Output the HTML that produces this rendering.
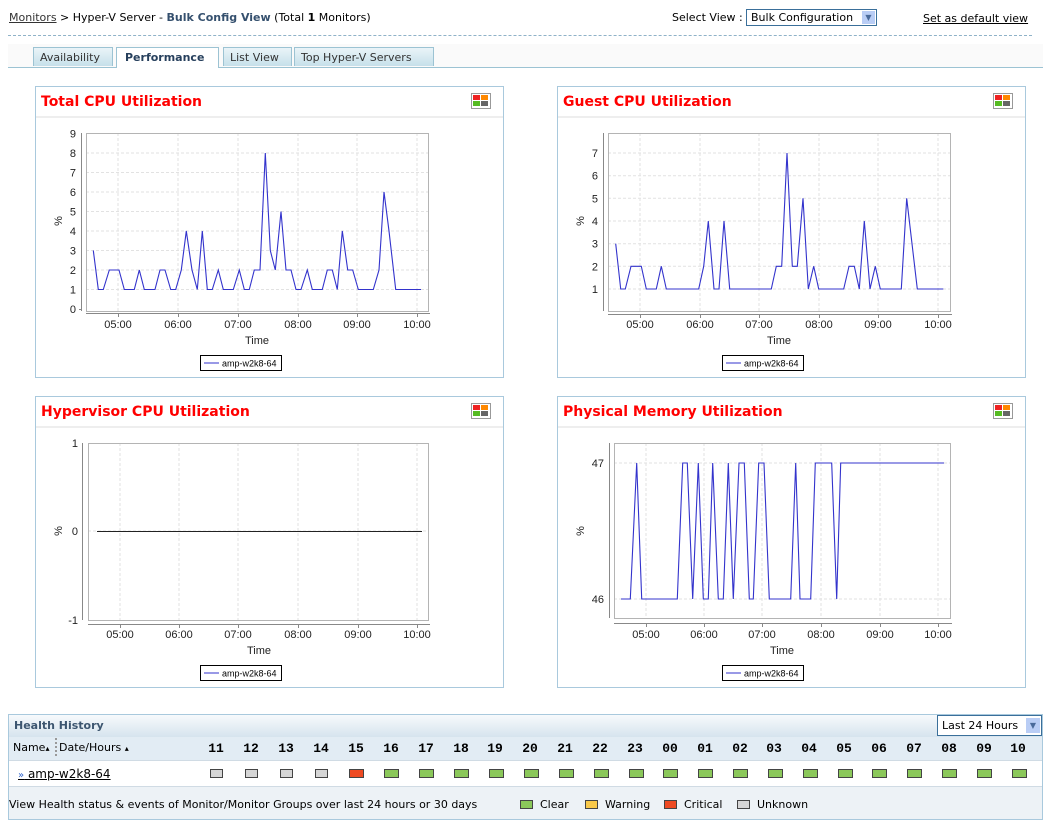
<!DOCTYPE html>
<html><head><meta charset="utf-8"><style>
body{margin:0;width:1050px;height:829px;background:#fff;font-family:"DejaVu Sans","Liberation Sans",sans-serif;font-size:11px;color:#000;position:relative;overflow:hidden}
.a{position:absolute}
.tab{position:absolute;top:47px;height:19px;border:1px solid #9cc3d3;border-bottom:none;background:linear-gradient(#eaf4f8,#c6e0ea);font-size:11px;line-height:19px;padding-left:6px;color:#333;box-sizing:border-box}
.panel{position:absolute;border:1px solid #a9c9dd;width:469px;height:290px;box-sizing:border-box}
.panel .t{position:absolute;left:5px;top:7px;color:#f00;font-weight:bold;font-size:14px}
.panel .bar{position:absolute;left:0;right:0;top:29px;height:2px;background:#eee}
.ic{position:absolute;right:12px;top:6px;width:18px;height:14px;border:1px solid #999;background:#fff}
.ic i{position:absolute;width:7px;height:5px}
.hr{position:absolute;top:741px;font-weight:bold;font-size:13px;width:30px;text-align:center;font-family:"Liberation Mono",monospace}
.sq{position:absolute;top:769px;width:11px;height:7px;border:1px solid #444}
</style></head><body>
<div class="a" style="left:9px;top:11px;font-size:11px"><span style="text-decoration:underline;color:#333">Monitors</span> &gt; Hyper-V Server - <b style="color:#35506e">Bulk Config View</b> (Total <b>1</b> Monitors)</div>
<div class="a" style="left:672px;top:11px">Select View :</div>
<div class="a" style="left:746px;top:9px;width:131px;height:17px;border:1px solid #3a6f9a;box-sizing:border-box;padding-left:4px;line-height:15px">Bulk Configuration<span style="position:absolute;right:1px;top:1px;width:13px;height:13px;background:#b9cdf5;color:#4a6a9a;font-size:8px;text-align:center;line-height:13px">&#9660;</span></div>
<div class="a" style="left:923px;top:12px;text-decoration:underline">Set as default view</div>
<div class="a" style="left:8px;top:35px;width:1024px;border-top:1px dashed #8fb2c8"></div>
<div class="a" style="left:8px;top:44px;width:1035px;height:23px;background:#fafafa;border-bottom:1px solid #9cc3d3"></div>
<div class="tab" style="left:33px;width:80px">Availability</div>
<div class="tab" style="left:116px;width:103px;background:#fff;height:21px;font-weight:bold;color:#263f5c;padding-left:8px">Performance</div>
<div class="tab" style="left:223px;width:69px">List View</div>
<div class="tab" style="left:294px;width:140px">Top Hyper-V Servers</div>

<div class="panel" style="left:35px;top:86px;height:292px"><div class="t">Total CPU Utilization</div><div class="bar"></div><div class="ic"><i style="left:1px;top:1px;background:#e22"></i><i style="left:9px;top:1px;background:#f80"></i><i style="left:1px;top:7px;background:#5b2"></i><i style="left:9px;top:7px;background:#666"></i></div></div>
<div class="panel" style="left:557px;top:86px;height:292px"><div class="t">Guest CPU Utilization</div><div class="bar"></div><div class="ic"><i style="left:1px;top:1px;background:#e22"></i><i style="left:9px;top:1px;background:#f80"></i><i style="left:1px;top:7px;background:#5b2"></i><i style="left:9px;top:7px;background:#666"></i></div></div>
<div class="panel" style="left:35px;top:396px;height:292px"><div class="t">Hypervisor CPU Utilization</div><div class="bar"></div><div class="ic"><i style="left:1px;top:1px;background:#e22"></i><i style="left:9px;top:1px;background:#f80"></i><i style="left:1px;top:7px;background:#5b2"></i><i style="left:9px;top:7px;background:#666"></i></div></div>
<div class="panel" style="left:557px;top:396px;height:292px"><div class="t">Physical Memory Utilization</div><div class="bar"></div><div class="ic"><i style="left:1px;top:1px;background:#e22"></i><i style="left:9px;top:1px;background:#f80"></i><i style="left:1px;top:7px;background:#5b2"></i><i style="left:9px;top:7px;background:#666"></i></div></div>

<svg class="a" style="left:0;top:0" width="1050" height="829" font-family="Liberation Sans, sans-serif" font-size="11">
<g stroke="#e2e2e2" stroke-dasharray="3,2" stroke-width="1">
<path d="M86 289.5H428M86 270H428M86 250.5H428M86 231H428M86 211.5H428M86 192H428M86 172.5H428M86 153H428M118 133V311M178 133V311M238 133V311M298 133V311M357 133V311M417 133V311"/>
<path d="M608 289H950M608 266.3H950M608 243.7H950M608 221H950M608 198.3H950M608 175.7H950M608 153H950M640 133V311M700 133V311M759 133V311M819 133V311M878 133V311M938 133V311"/>
<path d="M88 531H428M120 443V620M179 443V620M238 443V620M298 443V620M358 443V620M417 443V620"/>
<path d="M614 463H950M614 599H950M646 443V618M704 443V618M762 443V618M821 443V618M880 443V618M938 443V618"/>
</g>
<g fill="none" stroke="#b4b4b4"><rect x="86.5" y="133.5" width="342" height="178"/><rect x="608.5" y="133.5" width="342" height="178"/><rect x="88.5" y="443.5" width="340" height="177"/><rect x="614.5" y="443.5" width="336" height="175"/></g>
<g stroke="#888" fill="none">
<path d="M81.5 133V311M79 309.5H81M86 313.5H430M118.5 313V317M178.5 313V317M238.5 313V317M298.5 313V317M357.5 313V317M417.5 313V317"/>
<path d="M603.5 133V311M608 314.5H952M640.5 314V318M700.5 314V318M759.5 314V318M819.5 314V318M878.5 314V318M938.5 314V318"/>
<path d="M82.5 443V620M88 624.5H430M120.5 624V628M179.5 624V628M238.5 624V628M298.5 624V628M358.5 624V628M417.5 624V628"/>
<path d="M609.5 443V618M614 623.5H952M646.5 623V627M704.5 623V627M762.5 623V627M821.5 623V627M880.5 623V627M938.5 623V627"/>
</g>
<g fill="none" stroke="#3333cc" stroke-width="1.1">
<polyline points="93.3,250.5 98.3,289.5 103.3,289.5 109.3,270 119,270 124.3,289.5 134.3,289.5 139.3,270 144.3,289.5 155,289.5 160,270 165,270 170.7,289.5 175.7,289.5 181.3,270 186.3,231 192,270 197.3,289.5 202.3,231 207.3,289.5 212.3,289.5 218.3,270 223.3,289.5 233.3,289.5 239.3,270 244.3,289.5 249.3,289.5 254.3,270 260,270 265.3,153 270.3,250.5 275.3,270 281,211.5 286,270 291,270 296,289.5 301,289.5 307.3,270 312.3,289.5 322.3,289.5 327.3,270 332.3,270 337.3,289.5 342.3,231 347.7,270 352.7,270 358.3,289.5 373.3,289.5 379,270 384,192 389,231 395.7,289.5 421,289.5"/>
<polyline points="615.7,243.7 620.7,289 625.3,289 631,266.3 641.3,266.3 646.3,289 656.3,289 661.3,266.3 666.3,289 698.7,289 703.7,266.3 708.3,221 714,289 719,289 724,221 729.7,289 771.3,289 776.3,266.3 781.7,266.3 787,153 792.3,266.3 797.3,266.3 803,198.3 808.3,289 813.7,266.3 818.7,289 843.7,289 849,266.3 854.3,266.3 859.3,289 864.3,221 870,289 875.3,266.3 880.3,289 901.3,289 906.7,198.3 912,243.7 917.3,289 943.3,289"/>
<polyline points="621,599 630.3,599 636.7,463 641.7,599 677.3,599 682.7,463 687.3,463 692.7,599 698.3,463 703.3,599 708.3,599 712.7,463 718.3,599 723.3,599 728.3,463 733.3,599 739,463 744.3,463 749.3,599 753.3,599 758.7,463 764,463 769.3,599 790.7,599 795.7,463 800,599 810.7,599 815.3,463 831.7,463 836.7,599 840.7,463 944,463"/>
</g>
<path d="M97 531.5H422" stroke="#222" stroke-width="1"/>
<g fill="#222" text-anchor="end">
<text x="76" y="313">0</text><text x="76" y="293.5">1</text><text x="76" y="274">2</text><text x="76" y="254.5">3</text><text x="76" y="235">4</text><text x="76" y="215.5">5</text><text x="76" y="196">6</text><text x="76" y="176.5">7</text><text x="76" y="157">8</text><text x="76" y="137.5">9</text>
<text x="598" y="293">1</text><text x="598" y="270.3">2</text><text x="598" y="247.7">3</text><text x="598" y="225">4</text><text x="598" y="202.3">5</text><text x="598" y="179.7">6</text><text x="598" y="157">7</text>
<text x="78" y="447">1</text><text x="78" y="535">0</text><text x="78" y="624">-1</text>
<text x="604" y="467">47</text><text x="604" y="603">46</text>
</g>
<g fill="#222" text-anchor="middle">
<text x="118" y="328">05:00</text><text x="178" y="328">06:00</text><text x="238" y="328">07:00</text><text x="298" y="328">08:00</text><text x="357" y="328">09:00</text><text x="417" y="328">10:00</text>
<text x="640" y="328">05:00</text><text x="700" y="328">06:00</text><text x="759" y="328">07:00</text><text x="819" y="328">08:00</text><text x="878" y="328">09:00</text><text x="938" y="328">10:00</text>
<text x="120" y="638">05:00</text><text x="179" y="638">06:00</text><text x="238" y="638">07:00</text><text x="298" y="638">08:00</text><text x="358" y="638">09:00</text><text x="417" y="638">10:00</text>
<text x="646" y="638">05:00</text><text x="704" y="638">06:00</text><text x="762" y="638">07:00</text><text x="821" y="638">08:00</text><text x="880" y="638">09:00</text><text x="938" y="638">10:00</text>
<text x="257" y="344">Time</text><text x="779" y="344">Time</text><text x="259" y="654">Time</text><text x="782" y="654">Time</text>
<text transform="translate(62,221) rotate(-90)">%</text><text transform="translate(584,221) rotate(-90)">%</text><text transform="translate(62,531) rotate(-90)">%</text><text transform="translate(584,531) rotate(-90)">%</text>
</g>
<g font-size="9">
<rect x="200.5" y="355.5" width="81" height="15" fill="#fff" stroke="#000"/><path d="M204 363H219" stroke="#33c"/><text x="222" y="366.5">amp-w2k8-64</text>
<rect x="722.5" y="355.5" width="81" height="15" fill="#fff" stroke="#000"/><path d="M726 363H741" stroke="#33c"/><text x="744" y="366.5">amp-w2k8-64</text>
<rect x="200.5" y="665.5" width="81" height="15" fill="#fff" stroke="#000"/><path d="M204 673H219" stroke="#33c"/><text x="222" y="676.5">amp-w2k8-64</text>
<rect x="722.5" y="665.5" width="81" height="15" fill="#fff" stroke="#000"/><path d="M726 673H741" stroke="#33c"/><text x="744" y="676.5">amp-w2k8-64</text>
</g>
</svg>

<div class="a" style="left:8px;top:714px;width:1035px;height:106px;border:1px solid #a9c9dd;box-sizing:border-box;background:#edf2f6"></div>
<div class="a" style="left:9px;top:715px;width:1033px;height:22px;background:linear-gradient(#f7fafc,#d6e4ee)"></div>
<div class="a" style="left:14px;top:719px;font-weight:bold;color:#3d5670;font-size:11px">Health History</div>
<div class="a" style="left:937px;top:715px;width:105px;height:21px;border:1px solid #3a6f9a;box-sizing:border-box;background:#fff;padding-left:4px;line-height:19px">Last 24 Hours<span style="position:absolute;right:1px;top:2px;width:14px;height:15px;background:#b9cdf5;color:#4a6a9a;font-size:8px;text-align:center;line-height:15px">&#9660;</span></div>
<div class="a" style="left:9px;top:737px;width:1033px;height:23px;background:#e2ecf4;border-bottom:1px solid #d0dbe4"></div>
<div class="a" style="left:13px;top:741px">Name<span style="font-size:8px">&#9652;</span></div>
<div class="a" style="left:55px;top:738px;height:18px;border-left:2px dotted #999"></div>
<div class="a" style="left:59px;top:741px">Date/Hours <span style="font-size:8px">&#9652;</span></div>
<div class="a" style="left:9px;top:761px;width:1033px;height:25px;background:#fff;border-bottom:1px solid #d0dbe4"></div>
<div class="a" style="left:18px;top:767px;font-size:12px;text-decoration:underline"><span style="color:#36c;font-size:10px">&#187;</span> amp-w2k8-64</div>
<div class="a" style="left:9px;top:798px">View Health status &amp; events of Monitor/Monitor Groups over last 24 hours or 30 days</div>
<div class="sq" style="left:520px;top:800px;background:#8bc85a"></div><div class="a" style="left:540px;top:798px">Clear</div>
<div class="sq" style="left:585px;top:800px;background:#f9c94a"></div><div class="a" style="left:605px;top:798px">Warning</div>
<div class="sq" style="left:664px;top:800px;background:#ee4a22"></div><div class="a" style="left:684px;top:798px">Critical</div>
<div class="sq" style="left:737px;top:800px;background:#d6d6d6"></div><div class="a" style="left:757px;top:798px">Unknown</div>

<div class="hr" style="left:201px">11</div><div class="sq" style="left:210px;background:#d6d6d6"></div>
<div class="hr" style="left:236px">12</div><div class="sq" style="left:245px;background:#d6d6d6"></div>
<div class="hr" style="left:271px">13</div><div class="sq" style="left:280px;background:#d6d6d6"></div>
<div class="hr" style="left:306px">14</div><div class="sq" style="left:315px;background:#d6d6d6"></div>
<div class="hr" style="left:341px">15</div><div class="sq" style="left:349px;background:#ee4a22;width:13px"></div>
<div class="hr" style="left:376px">16</div><div class="sq" style="left:384px;background:#8bc85a;width:13px"></div>
<div class="hr" style="left:411px">17</div><div class="sq" style="left:419px;background:#8bc85a;width:13px"></div>
<div class="hr" style="left:446px">18</div><div class="sq" style="left:454px;background:#8bc85a;width:13px"></div>
<div class="hr" style="left:480px">19</div><div class="sq" style="left:489px;background:#8bc85a;width:13px"></div>
<div class="hr" style="left:515px">20</div><div class="sq" style="left:524px;background:#8bc85a;width:13px"></div>
<div class="hr" style="left:550px">21</div><div class="sq" style="left:559px;background:#8bc85a;width:13px"></div>
<div class="hr" style="left:585px">22</div><div class="sq" style="left:594px;background:#8bc85a;width:13px"></div>
<div class="hr" style="left:620px">23</div><div class="sq" style="left:629px;background:#8bc85a;width:13px"></div>
<div class="hr" style="left:655px">00</div><div class="sq" style="left:663px;background:#8bc85a;width:13px"></div>
<div class="hr" style="left:690px">01</div><div class="sq" style="left:698px;background:#8bc85a;width:13px"></div>
<div class="hr" style="left:725px">02</div><div class="sq" style="left:733px;background:#8bc85a;width:13px"></div>
<div class="hr" style="left:759px">03</div><div class="sq" style="left:768px;background:#8bc85a;width:13px"></div>
<div class="hr" style="left:794px">04</div><div class="sq" style="left:803px;background:#8bc85a;width:13px"></div>
<div class="hr" style="left:829px">05</div><div class="sq" style="left:838px;background:#8bc85a;width:13px"></div>
<div class="hr" style="left:864px">06</div><div class="sq" style="left:872px;background:#8bc85a;width:13px"></div>
<div class="hr" style="left:899px">07</div><div class="sq" style="left:907px;background:#8bc85a;width:13px"></div>
<div class="hr" style="left:934px">08</div><div class="sq" style="left:942px;background:#8bc85a;width:13px"></div>
<div class="hr" style="left:969px">09</div><div class="sq" style="left:977px;background:#8bc85a;width:13px"></div>
<div class="hr" style="left:1003px">10</div><div class="sq" style="left:1012px;background:#8bc85a;width:13px"></div>
</body></html>
